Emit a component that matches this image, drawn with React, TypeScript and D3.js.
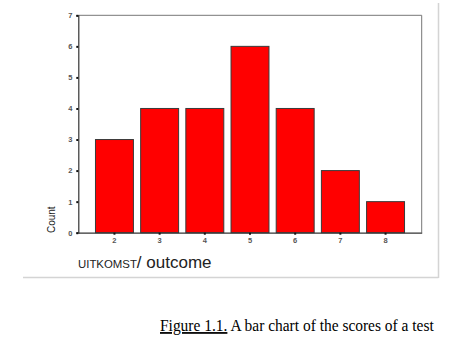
import * as d3 from 'd3';
import { useEffect, useRef } from 'react';

const width = 452;
const height = 343;
const frame = { left: 78.3, right: 421.7, top: 15.3, bottom: 232.7 };

const outcomes = ['2', '3', '4', '5', '6', '7', '8'];
const counts = [3, 4, 4, 6, 4, 2, 1];
const yTicks = [0, 1, 2, 3, 4, 5, 6, 7];

function App() {
  const ref = useRef<SVGSVGElement>(null);

  useEffect(() => {
    const svg = d3.select(ref.current);
    svg.selectAll('*').remove();

    const x = d3
      .scaleBand()
      .domain(outcomes)
      .range([frame.left, frame.right])
      .paddingInner(0.16)
      .paddingOuter(0.38);

    const y = d3.scaleLinear().domain([0, 7]).range([frame.bottom, frame.top]);

    // page borders (grey lines of the document)
    svg
      .append('line')
      .attr('x1', 23)
      .attr('x2', 438.5)
      .attr('y1', 277.5)
      .attr('y2', 277.5)
      .attr('stroke', '#d4d4d4')
      .attr('stroke-width', 1.5);
    svg
      .append('line')
      .attr('x1', 438.5)
      .attr('x2', 438.5)
      .attr('y1', 3)
      .attr('y2', 278)
      .attr('stroke', '#d4d4d4')
      .attr('stroke-width', 1.5);

    // frame top / right
    svg
      .append('path')
      .attr('d', `M${frame.left},${frame.top}H${frame.right}V${frame.bottom}`)
      .attr('fill', 'none')
      .attr('stroke', '#777')
      .attr('stroke-width', 1);

    // bars
    svg
      .append('g')
      .selectAll('rect')
      .data(outcomes)
      .join('rect')
      .attr('x', (d) => x(d) || 0)
      .attr('y', (d, i) => y(counts[i]))
      .attr('width', x.bandwidth())
      .attr('height', (d, i) => y(0) - y(counts[i]))
      .attr('fill', '#ff0000')
      .attr('stroke', '#3a3a3a')
      .attr('stroke-width', 1);

    // y axis
    const yAxis = svg
      .append('g')
      .attr('transform', `translate(${frame.left},0)`)
      .call(d3.axisLeft(y).tickValues(yTicks).tickSize(2).tickPadding(4).tickFormat(d3.format('d')));
    yAxis.select('.domain').attr('stroke', '#333').attr('stroke-width', 1.2);
    yAxis.selectAll('.tick line').attr('stroke', '#111').attr('stroke-width', 2);
    yAxis
      .selectAll('.tick text')
      .attr('font-family', 'Arial, "Liberation Sans", sans-serif')
      .attr('font-size', 7.5)
      .attr('font-weight', 'bold')
      .attr('fill', '#555');

    // x axis
    const xAxis = svg
      .append('g')
      .attr('transform', `translate(0,${frame.bottom})`)
      .call(d3.axisBottom(x).tickSize(2).tickPadding(3).tickSizeOuter(0));
    xAxis.select('.domain').attr('stroke', '#333').attr('stroke-width', 1.2);
    xAxis.selectAll('.tick line').attr('stroke', '#111').attr('stroke-width', 2);
    xAxis
      .selectAll('.tick text')
      .attr('font-family', 'Arial, "Liberation Sans", sans-serif')
      .attr('font-size', 7.5)
      .attr('font-weight', 'bold')
      .attr('fill', '#555');

    // y title
    svg
      .append('text')
      .attr('transform', 'translate(55,219.7) rotate(-90)')
      .attr('text-anchor', 'middle')
      .attr('font-family', 'Arial, "Liberation Sans", sans-serif')
      .attr('font-size', 10)
      .attr('fill', '#222')
      .text('Count');

    // x title
    const xt = svg
      .append('text')
      .attr('x', 78)
      .attr('y', 268)
      .attr('font-family', 'Arial, "Liberation Sans", sans-serif')
      .attr('fill', '#222');
    xt.append('tspan').attr('font-size', 11.4).text('UITKOMST');
    xt.append('tspan').attr('font-size', 17).text('/ outcome');

    // caption, squeezed horizontally to the width seen in the reference
    const capG = svg.append('g').attr('transform', 'translate(160,331)');
    const cap = capG
      .append('text')
      .attr('font-family', '"Liberation Serif", "Times New Roman", serif')
      .attr('font-size', 17.5)
      .attr('fill', '#000');
    cap.append('tspan').attr('text-decoration', 'underline').text('Figure 1.1.');
    cap.append('tspan').text(' A bar chart of the scores of a test');
    const w = (cap.node() as SVGTextElement).getComputedTextLength();
    if (w > 0) capG.attr('transform', `translate(160,331) scale(${274 / w},1)`);
  }, []);

  return (
    <svg
      ref={ref}
      width={width}
      height={height}
      style={{ position: 'absolute', left: 0, top: 0, background: '#fff' }}
    />
  );
}

export default App;
